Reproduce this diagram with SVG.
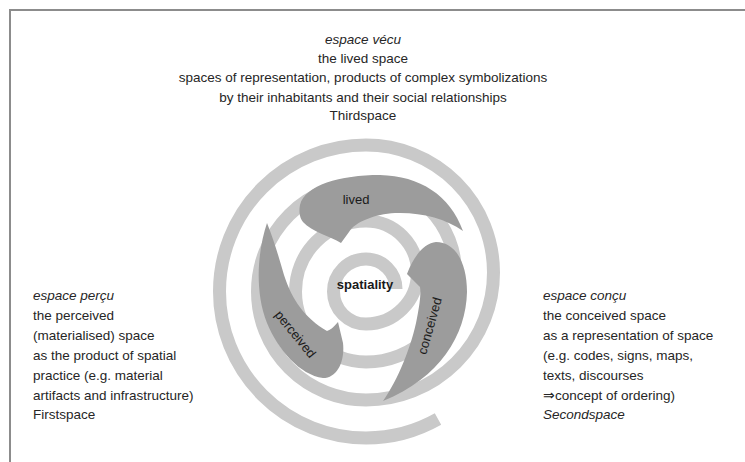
<svg xmlns="http://www.w3.org/2000/svg" width="745" height="462" viewBox="0 0 745 462">
<style>
  .t { font-family: "Liberation Sans", Arial, sans-serif; font-size: 13.5px; fill: #262626; }
  .i { font-style: italic; }
  .lbl { font-family: "Liberation Sans", Arial, sans-serif; font-size: 13px; fill: #1a1a1a; }
  .blob { fill: #9c9c9c; }
  .spiral { fill: none; stroke: #c9c9c9; stroke-width: 13; stroke-linecap: butt; }
  .frame { stroke: #8c8c8c; stroke-width: 2; fill: none; }
</style>
<rect width="745" height="462" fill="#ffffff"/>
<g id="frame">
  <path class="frame" d="M 10 462 L 10 10 L 745 10"/>
</g>
<g id="connectors">
  <path id="spiral" class="spiral" d="M 438 419 A 146.5 146.5 0 0 1 366 438 A 146.5 146.5 0 0 1 366 145 A 127.5 127.5 0 0 1 366 400 A 108.5 108.5 0 0 1 366 183 A 89.5 89.5 0 0 1 366 362 A 70.5 70.5 0 0 1 366 221 A 51.5 51.5 0 0 1 366 324 A 32.5 32.5 0 0 1 366 259 A 30 30 0 0 1 396 289"/>
</g>
<g id="node-lived">
  <path class="blob" d="M 300 205 C 305 185, 340 175, 380 175 C 420 176, 450 195, 463 231 C 445 218, 420 212, 395 213 C 375 214, 355 222, 349 232 L 341 243 C 330 236, 312 232, 303 222 C 299 217, 299 210, 300 205 Z"/>
  <text class="lbl" x="356" y="204" text-anchor="middle">lived</text>
</g>
<g id="node-conceived">
  <path class="blob" d="M 407 274 C 414 255, 425 243, 436 242 C 455 242, 467 262, 467 292 C 466 335, 440 378, 383 401 C 398 380, 412 345, 417 318 C 420 303, 421 293, 420 287 Z"/>
  <text class="lbl" x="0" y="0" text-anchor="middle" transform="translate(434 327) rotate(-74)">conceived</text>
</g>
<g id="node-perceived">
  <path class="blob" d="M 267 223 C 258 250, 254 290, 267 323 C 278 350, 300 375, 323 378 C 338 378, 345 360, 343 343 L 338 322 C 333 328, 330 330, 327 331 C 305 318, 292 300, 284 275 C 279 258, 274 240, 267 223 Z"/>
  <text class="lbl" x="0" y="0" text-anchor="middle" transform="translate(292 337) rotate(51)">perceived</text>
</g>
<g id="node-spatiality">
  <text class="lbl" x="365" y="289" text-anchor="middle" font-weight="bold" font-size="14">spatiality</text>
</g>
<g id="text-thirdspace">
  <text class="t i" x="363" y="44" text-anchor="middle">espace vécu</text>
  <text class="t" x="363" y="63" text-anchor="middle">the lived space</text>
  <text class="t" x="363" y="82" text-anchor="middle">spaces of representation, products of complex symbolizations</text>
  <text class="t" x="363" y="102" text-anchor="middle">by their inhabitants and their social relationships</text>
  <text class="t" x="363" y="120" text-anchor="middle">Thirdspace</text>
</g>
<g id="text-firstspace">
  <text class="t i" x="33" y="300">espace perçu</text>
  <text class="t" x="33" y="320">the perceived</text>
  <text class="t" x="33" y="340">(materialised) space</text>
  <text class="t" x="33" y="360">as the product of spatial</text>
  <text class="t" x="33" y="380">practice (e.g. material</text>
  <text class="t" x="33" y="400">artifacts and infrastructure)</text>
  <text class="t" x="33" y="419">Firstspace</text>
</g>
<g id="text-secondspace">
  <text class="t i" x="543" y="300">espace conçu</text>
  <text class="t" x="543" y="320">the conceived space</text>
  <text class="t" x="543" y="340">as a representation of space</text>
  <text class="t" x="543" y="360">(e.g. codes, signs, maps,</text>
  <text class="t" x="543" y="380">texts, discourses</text>
  <text class="t" x="543" y="400">⇒concept of ordering)</text>
  <text class="t i" x="543" y="419">Secondspace</text>
</g>
</svg>
